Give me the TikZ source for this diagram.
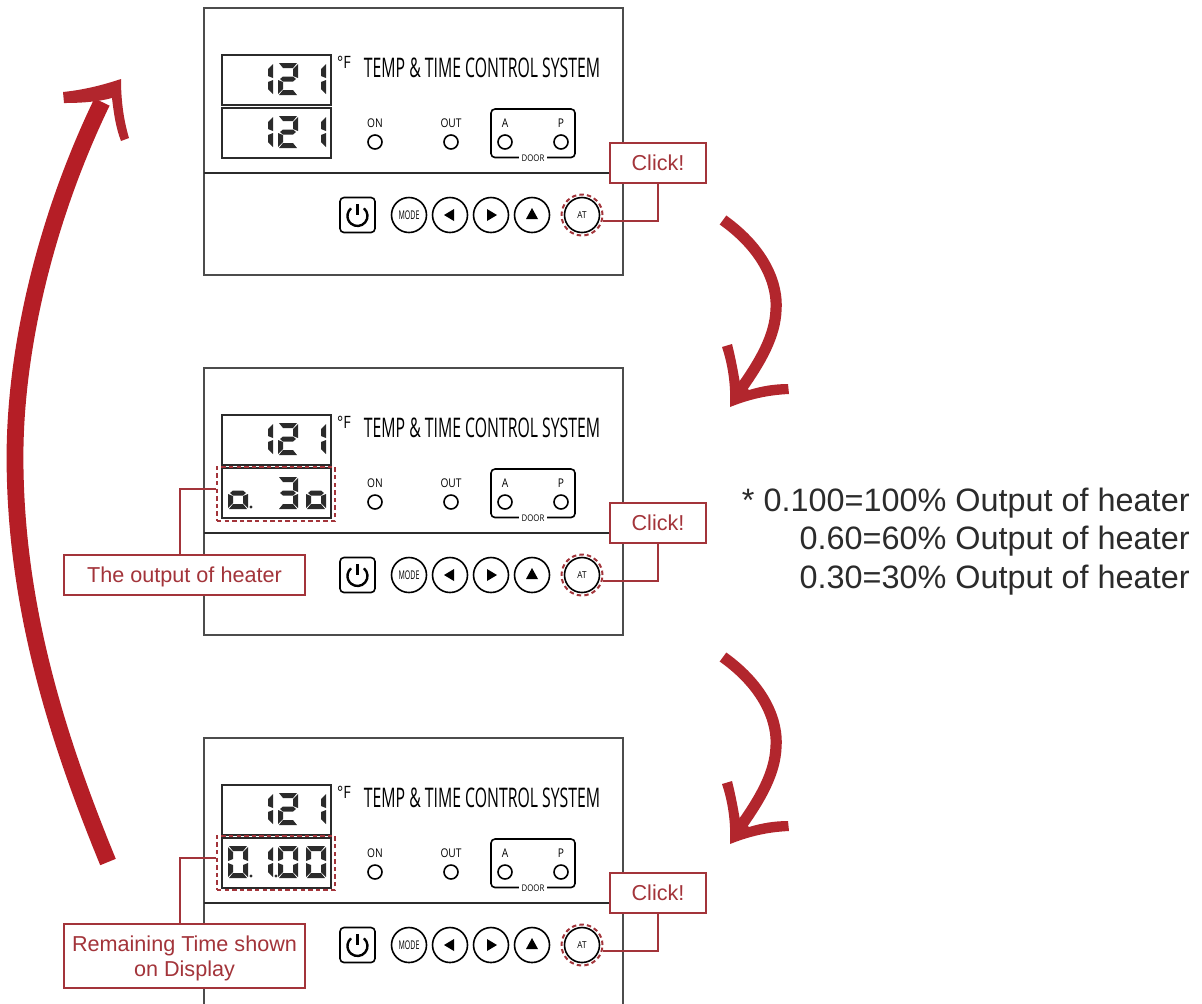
\documentclass[tikz,border=0pt]{standalone}
\usepackage{fontspec}
\setmainfont{Liberation Sans}
\newfontfamily\panelfont[FakeStretch=0.585]{Open Sans}
\newfontfamily\labelfont[FakeStretch=0.85]{Open Sans}
\usepackage{tikz}

\definecolor{notered}{HTML}{A3343A}
\definecolor{swoopred}{HTML}{B2262D}
\definecolor{shaftred}{HTML}{B51E26}
\definecolor{inkgray}{HTML}{2B2B2B}

% segments of one display digit, 20 wide and 32 high
\newcommand{\segA}{(1,0)--(19,0)--(15,5)--(5,5)--cycle}
\newcommand{\segB}{(20,1)--(20,15)--(15,13)--(15,6)--cycle}
\newcommand{\segC}{(20,17)--(20,31)--(15,26)--(15,19)--cycle}
\newcommand{\segD}{(5,27)--(15,27)--(19,32)--(1,32)--cycle}
\newcommand{\segE}{(0,17)--(5,19)--(5,26)--(0,31)--cycle}
\newcommand{\segF}{(0,1)--(5,6)--(5,13)--(0,15)--cycle}
\newcommand{\segG}{(2,16)--(5,13.5)--(15,13.5)--(18,16)--(15,18.5)--(5,18.5)--cycle}
\newcommand{\lcddigit}[3]{%
    \begin{scope}[shift={(#1,#2)}]
        \foreach \s in {#3} {\fill[inkgray] \csname seg\s\endcsname;}
    \end{scope}}

\begin{document}
\begin{tikzpicture}[x=0.5pt,y=-0.5pt,
    panelline/.style={draw=black!70,line width=0.55pt},
    lcdbox/.style={draw=inkgray,line width=1pt,minimum width=54.5pt,minimum height=25pt,inner sep=0pt},
    lamp/.style={circle,draw=black,line width=0.8pt,minimum size=7pt,inner sep=0pt},
    btn/.style={circle,draw=black,line width=0.8pt,minimum size=17.5pt,inner sep=0pt,font=\labelfont\fontsize{4.8}{6}\selectfont},
    small/.style={font=\labelfont\fontsize{6}{8}\selectfont,inner sep=0pt},
    note/.style={draw=notered,line width=1pt,fill=white,text=notered,inner sep=0pt,align=center,text depth=0pt,
        font=\fontsize{10.8}{12.5}\selectfont},
    callout/.style={draw=notered,line width=1pt},
    dashmark/.style={draw=notered,line width=1pt,dash pattern=on 2.2pt off 1.6pt,inner sep=0pt},
    heaterline/.style={anchor=east,text=inkgray,inner sep=0pt,font=\fontsize{16.2}{20}\selectfont}]
    \useasboundingbox (0,0) rectangle (1202,1003);

    % the three control panels
    \foreach \p/\dy in {a/0,b/360,c/730} {
    \begin{scope}[shift={(0,\dy)}]
        \draw[panelline] (204,8) rectangle (623,275);
        \draw[draw=inkgray,line width=1pt] (204,172.5) -- (623,172.5);
        \node[lcdbox] (upper\p) at (276,79.5) {};
        \node[lcdbox] (lower\p) at (276,133) {};
        \lcddigit{253}{63}{B,C}
        \lcddigit{278}{63}{A,B,G,E,D}
        \lcddigit{306}{63}{B,C}
        \node[inner sep=0pt,font=\labelfont\fontsize{8.5}{9}\selectfont] (unit\p) at (344,62) {\textdegree F};
        \node[inner sep=0pt,font=\panelfont\fontsize{13.5}{15}\selectfont] (title\p) at (482,68)
            {TEMP \& TIME CONTROL SYSTEM};
        \node[small] (ontext\p) at (375,123) {ON};
        \node[small] (outtext\p) at (451,123) {OUT};
        \node[lamp] (on\p) at (375,142) {};
        \node[lamp] (out\p) at (451,142) {};
        \draw[black,line width=0.8pt,rounded corners=2pt] (491,109) rectangle (575,157.5);
        \node[small] (atext\p) at (505,123) {A};
        \node[small] (ptext\p) at (561,123) {P};
        \node[lamp] (alamp\p) at (505,142) {};
        \node[lamp] (plamp\p) at (561,142) {};
        \node[fill=white,inner xsep=1.5pt,inner ysep=0.5pt,font=\labelfont\fontsize{4.6}{6}\selectfont] (door\p) at (533,158) {DOOR};

        \node[draw=black,line width=0.8pt,rounded corners=2pt,minimum size=17.5pt,inner sep=0pt] (power\p) at (357.5,215) {};
        \draw[black,line width=1.2pt] (363.9,208.3) arc[start angle=-50,end angle=230,radius=10];
        \draw[black,line width=1.2pt] (357.5,204) -- (357.5,215);
        \node[btn,font=\panelfont\fontsize{6}{7}\selectfont] (mode\p) at (409,215) {MODE};
        \node[btn] (left\p) at (450,215) {};
        \node[btn] (right\p) at (491,215) {};
        \node[btn] (up\p) at (532,215) {};
        \node[btn] (at\p) at (582,215) {AT};
        \fill[black] (444,215) -- (454,209) -- (454,221) -- cycle;
        \fill[black] (497,215) -- (487,209) -- (487,221) -- cycle;
        \fill[black] (532,208) -- (538,219) -- (526,219) -- cycle;
        \node[circle,dashmark,minimum size=20.5pt] (ring\p) at (582,215) {};
        \node[note,minimum width=48pt,minimum height=20pt] (click\p) at (658,163) {Click!};
        \draw[callout] (click\p.south) |- (ring\p.-15);
    \end{scope}
    }

    % lower display of each panel
    \lcddigit{253}{116}{B,C}
    \lcddigit{278}{116}{A,B,G,E,D}
    \lcddigit{306}{116}{B,C}

    \lcddigit{228}{477}{G,C,D,E}
    \fill[inkgray] (251,507) circle (1.6);
    \lcddigit{278}{477}{A,B,G,C,D}
    \lcddigit{306}{477}{G,C,D,E}

    \lcddigit{228}{846}{A,B,C,D,E,F}
    \fill[inkgray] (251,876) circle (1.6);
    \lcddigit{253}{846}{B,C}
    \fill[inkgray] (276,876) circle (1.6);
    \lcddigit{278}{846}{A,B,C,D,E,F}
    \lcddigit{306}{846}{A,B,C,D,E,F}

    % remarks on the displays
    \node[dashmark,minimum width=59pt,minimum height=27pt] (dashb) at (276,494) {};
    \node[dashmark,minimum width=59pt,minimum height=27pt] (dashc) at (276,863) {};
    \node[note,minimum width=120.5pt,minimum height=20pt] (heater) at (184.5,575) {The output of heater};
    \node[note,minimum width=120.5pt,minimum height=32pt] (remain) at (184.5,956) {Remaining Time shown\\on Display};
    \draw[callout] ([yshift=2.5pt]dashb.west) -| ([xshift=-2.2pt]heater.north);
    \draw[callout] ([yshift=2.5pt]dashc.west) -| ([xshift=-2.2pt]remain.north);

    % heater list
    \node[heaterline] (hundred) at (1190,503) {* 0.100=100\% Output of heater};
    \node[heaterline] (sixty) at (1190,541.5) {0.60=60\% Output of heater};
    \node[heaterline] (thirty) at (1190,580) {0.30=30\% Output of heater};

    % the big arrows
    \foreach \dy in {0,437} {
    \begin{scope}[shift={(0,\dy)}]
        \draw[swoopred,line width=5.6pt] (723,220) .. controls (765,250) and (778,285) .. (776,310)
            .. controls (775,335) and (762,360) .. (738,393);
        \fill[swoopred] (722,347) -- (732,344) .. controls (736,360) and (738,372) .. (740,383)
            -- (749,390) .. controls (762,386) and (775,384) .. (788,384) -- (789,394)
            .. controls (768,395) and (750,399) .. (730,407)
            .. controls (731,385) and (728,365) .. (722,347) -- cycle;
    \end{scope}
    }
    \draw[shaftred,line width=8.4pt] (108,862) .. controls (60,745) and (15,610) .. (15,457)
        .. controls (15,350) and (45,220) .. (102,102);
    \fill[swoopred] (121,79) .. controls (100,86) and (82,90) .. (63,92) -- (64,103)
        .. controls (80,103) and (97,102) .. (112,98) .. controls (114,115) and (116,128) .. (121,141)
        -- (129,138) .. controls (123,118) and (121,98) .. (121,79) -- cycle;
\end{tikzpicture}
\end{document}
